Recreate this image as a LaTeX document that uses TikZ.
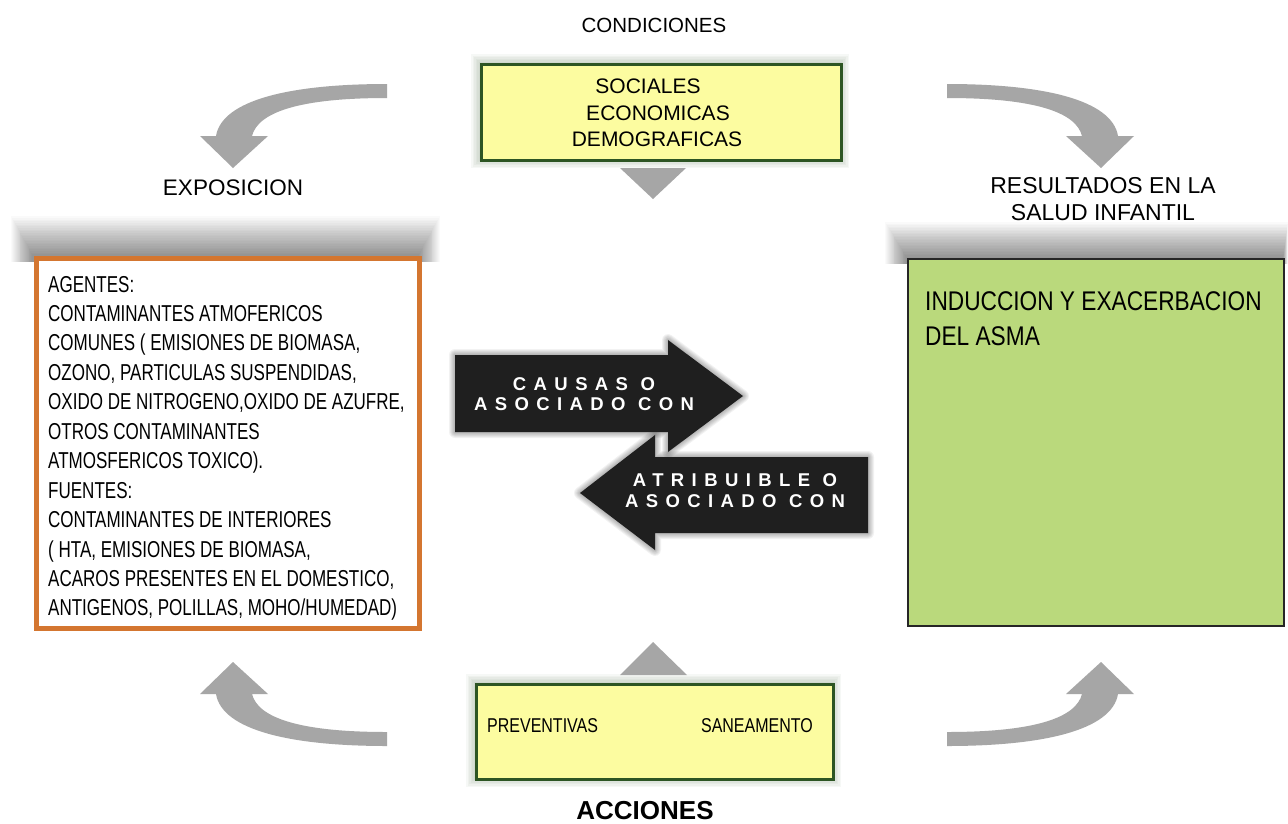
\documentclass[tikz,border=0pt]{standalone}
\usepackage{fontspec}
\setmainfont{Liberation Sans}
\newfontfamily\narrowA[FakeStretch=0.74]{Liberation Sans}
\newfontfamily\narrowB[FakeStretch=0.84]{Liberation Sans}
\newfontfamily\narrowC[FakeStretch=0.80]{Liberation Sans}
\newfontfamily\spacedbold[LetterSpace=40]{Liberation Sans Bold}
\definecolor{ylw}{RGB}{252,252,160}
\definecolor{dgreen}{RGB}{45,85,35}
\definecolor{grn}{RGB}{186,217,124}
\definecolor{org}{RGB}{212,118,48}
\definecolor{arrg}{RGB}{166,166,166}
\tikzset{
  ybox/.style={draw=dgreen, line width=2.5pt, fill=ylw, inner sep=0pt},
  lefttxt/.style={font=\narrowA\fontsize{23}{28}\selectfont, anchor=base west, inner sep=0pt},
  righttxt/.style={font=\narrowB\fontsize{27}{32}\selectfont, anchor=base west, inner sep=0pt},
  boxtxt/.style={font=\fontsize{21}{26.5}\selectfont, align=center, inner sep=0pt},
  label/.style={font=\fontsize{22.5}{26}\selectfont, align=center, inner sep=0pt},
  acttxt/.style={font=\narrowC\fontsize{20}{24}\selectfont, inner sep=0pt},
  arrtxt/.style={font=\spacedbold\fontsize{18.5}{21}\selectfont, text=white, align=center, inner sep=0pt},
  grayarrow/.style={fill=arrg},
  blackarrow/.style={fill=black!88}
}
\begin{document}
\begin{tikzpicture}[x=1pt,y=-1pt]
\useasboundingbox (0,0) rectangle (1288,823);
\fill[white] (0,0) rectangle (1288,823);

% ---- soft shadows (stacked translucent layers) ----
\foreach \k in {1,...,24} {
  \fill[black,opacity=0.018] (33-\k*0.9,256-\k*1.65) rectangle (418+\k*0.9,262);
  \fill[black,opacity=0.018] (907-\k*0.9,258-\k*1.5) rectangle (1283+\k*0.2,264);
}
\foreach \k in {1,...,6} {
  \fill[dgreen,opacity=0.04] (480-\k*1.5,63-\k*1.5) rectangle (840+\k*1.5,159+\k*1.5);
  \fill[dgreen,opacity=0.04] (475-\k*1.5,683-\k*1.5) rectangle (832+\k*1.5,778+\k*1.5);
}

% ---- top: conditions ----
\node[label, font=\fontsize{20.5}{24}\selectfont, anchor=base] (condlbl) at (654,32) {CONDICIONES};
\node[ybox, minimum width=360pt, minimum height=96pt, anchor=north west] (cond) at (480,63) {};
\node[boxtxt, anchor=base] (soc) at (648,93) {SOCIALES};
\node[boxtxt, anchor=base] (eco) at (658,120) {ECONOMICAS};
\node[boxtxt, anchor=base] (dem) at (657,146) {DEMOGRAFICAS};
\fill[grayarrow] (620,168) -- (686,168) -- (653,199) -- cycle;

% ---- curved gray arrows ----
\fill[grayarrow] (387,84) .. controls (290,84) and (222,100) .. (216,136) -- (200,136) -- (233,168) -- (268,136) -- (252,136) .. controls (258,112) and (300,98) .. (387,98) -- cycle;
\fill[grayarrow] (947,84) .. controls (1044,84) and (1112,100) .. (1118,136) -- (1134,136) -- (1101,168) -- (1066,136) -- (1082,136) .. controls (1076,112) and (1034,98) .. (947,98) -- cycle;
\fill[grayarrow] (387,746) .. controls (290,746) and (222,730) .. (216,694) -- (200,694) -- (233,662) -- (268,694) -- (252,694) .. controls (258,718) and (300,732) .. (387,732) -- cycle;
\fill[grayarrow] (947,746) .. controls (1044,746) and (1112,730) .. (1118,694) -- (1134,694) -- (1101,662) -- (1066,694) -- (1082,694) .. controls (1076,718) and (1034,732) .. (947,732) -- cycle;

% ---- labels ----
\node[label, anchor=base] (expo) at (233,195) {EXPOSICION};
\node[label, font=\fontsize{23}{26}\selectfont, anchor=base] (res1) at (1103,193) {RESULTADOS EN LA};
\node[label, font=\fontsize{23}{26}\selectfont, anchor=base] (res2) at (1103,220) {SALUD INFANTIL};

% ---- left box ----
\node[draw=org, line width=5pt, fill=white, minimum width=383pt, minimum height=370pt, anchor=north west, inner sep=0pt] (agents) at (34,256) {};
\foreach \t [count=\i] in {{AGENTES:},{CONTAMINANTES ATMOFERICOS},{COMUNES ( EMISIONES DE BIOMASA,},{OZONO, PARTICULAS SUSPENDIDAS,},{OXIDO DE NITROGENO,OXIDO DE AZUFRE,},{OTROS CONTAMINANTES},{ATMOSFERICOS TOXICO).},{FUENTES:},{CONTAMINANTES DE INTERIORES},{( HTA, EMISIONES DE BIOMASA,},{ACAROS PRESENTES EN EL DOMESTICO,},{ANTIGENOS, POLILLAS, MOHO/HUMEDAD)}}
  \node[lefttxt] (ag\i) at (48,{292+(\i-1)*29.45}) {\t};

% ---- right box ----
\node[draw=black!85, line width=2pt, fill=grn, minimum width=376pt, minimum height=367pt, anchor=north west, inner sep=0pt] (asma) at (907,258) {};
\node[righttxt] (ind1) at (925,310) {INDUCCION Y EXACERBACION};
\node[righttxt] (ind2) at (925,345) {DEL ASMA};

% ---- black arrows ----
\foreach \k in {1,...,6} {
  \draw[black,opacity=0.05,line width=\k*2pt,line join=round] (455,355) -- (668,355) -- (668,340) -- (743,396) -- (668,452) -- (668,432) -- (455,432) -- cycle;
  \draw[black,opacity=0.05,line width=\k*2pt,line join=round] (868,457) -- (655,457) -- (655,435) -- (580,493) -- (655,550) -- (655,533) -- (868,533) -- cycle;
}
\fill[blackarrow] (455,355) -- (668,355) -- (668,340) -- (743,396) -- (668,452) -- (668,432) -- (455,432) -- cycle;
\fill[blackarrow] (868,457) -- (655,457) -- (655,435) -- (580,493) -- (655,550) -- (655,533) -- (868,533) -- cycle;
\node[arrtxt, anchor=base] (c1) at (584,390) {CAUSAS O};
\node[arrtxt, anchor=base] (c2) at (584,410) {ASOCIADO CON};
\node[arrtxt, anchor=base] (a1) at (735,486) {ATRIBUIBLE O};
\node[arrtxt, anchor=base] (a2) at (735,507) {ASOCIADO CON};

% ---- bottom: actions ----
\fill[grayarrow] (620,675) -- (687,675) -- (653,642) -- cycle;
\node[ybox, minimum width=357pt, minimum height=95pt, anchor=north west] (acc) at (475,683) {};
\node[acttxt, anchor=base west] (prev) at (487,732) {PREVENTIVAS};
\node[acttxt, anchor=base east] (san) at (813,732) {SANEAMENTO};
\node[font=\bfseries\fontsize{26}{30}\selectfont, anchor=base, inner sep=0pt] (acclbl) at (645,819) {ACCIONES};
\end{tikzpicture}
\end{document}
